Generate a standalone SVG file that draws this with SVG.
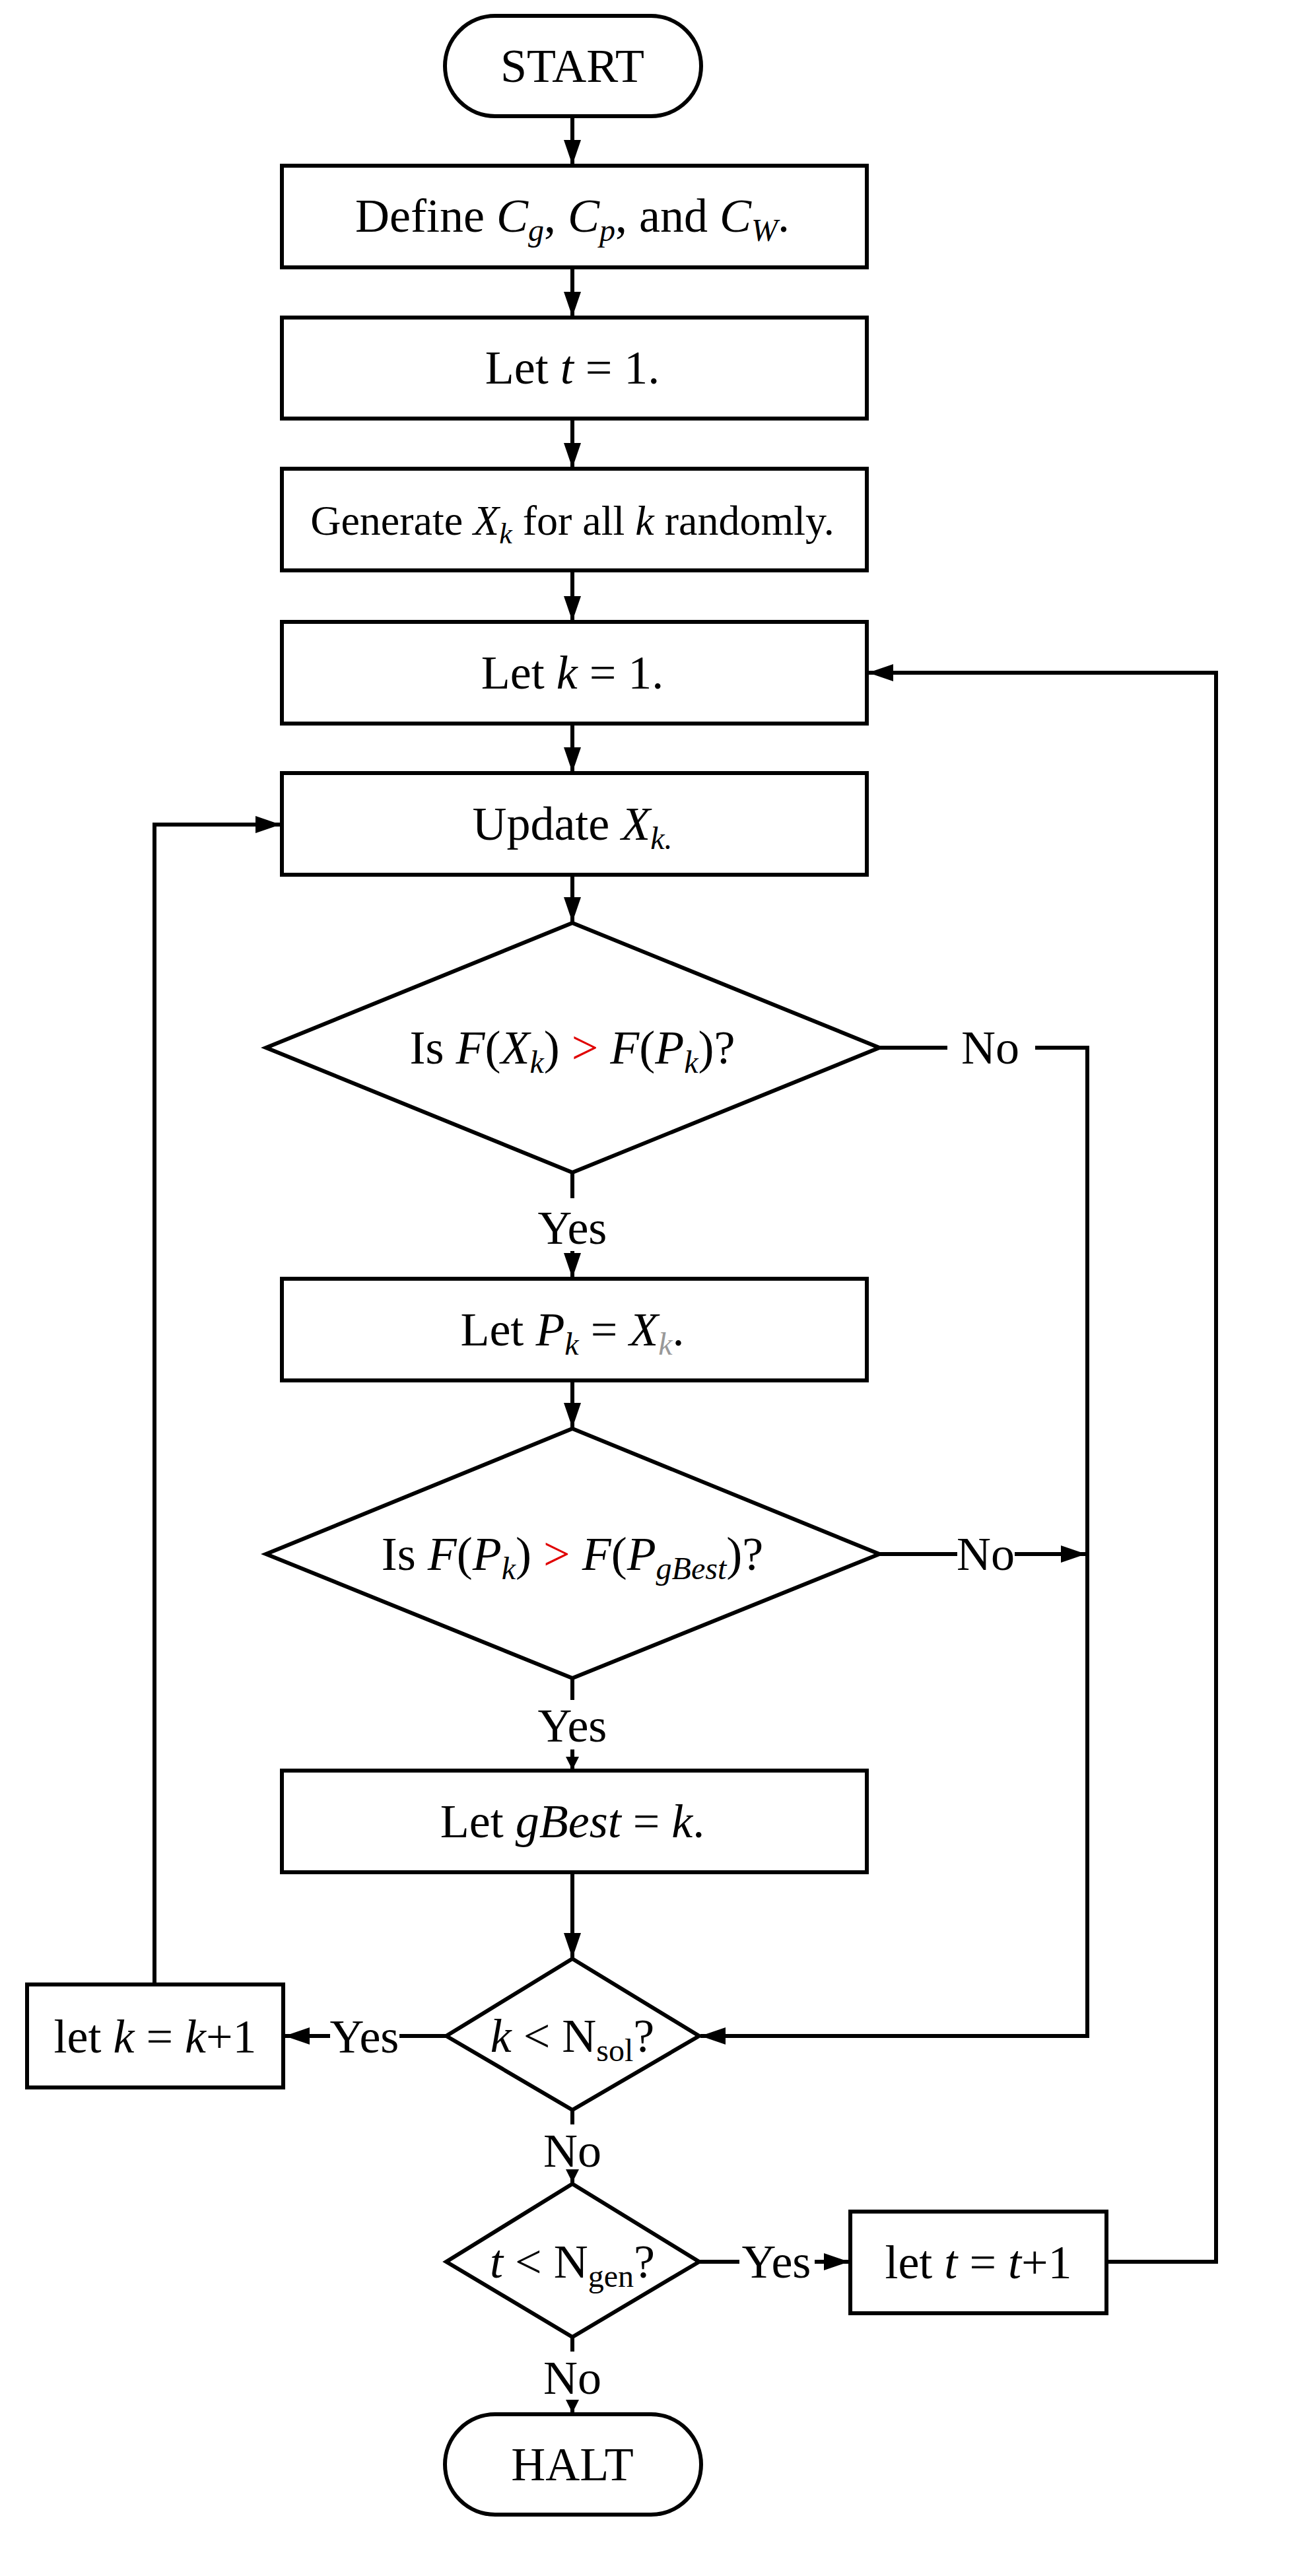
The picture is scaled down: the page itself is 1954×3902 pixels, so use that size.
<svg xmlns="http://www.w3.org/2000/svg" width="1954" height="3902" viewBox="0 0 1954 3902">
<style>
.s{fill:#fff;stroke:#000;stroke-width:6}
.c{fill:none;stroke:#000;stroke-width:6}
text{font-family:"Liberation Serif","Times New Roman",serif;font-size:72px;fill:#000;text-anchor:middle}
.i{font-style:italic}
.sub{font-size:48px}
.r{fill:#e00000}
</style>
<defs>
<marker id="a" markerWidth="40" markerHeight="30" refX="38" refY="15" orient="auto" markerUnits="userSpaceOnUse">
<path d="M0,2 L38,15 L0,28 Z" fill="#000"/>
</marker>
<marker id="b" markerWidth="22" markerHeight="24" refX="20" refY="12" orient="auto" markerUnits="userSpaceOnUse">
<path d="M0,2 L20,12 L0,22 Z" fill="#000"/>
</marker>
</defs>
<rect width="1954" height="3902" fill="#fff"/>
<g id="connectors">
<path class="c" d="M867,176 V250" marker-end="url(#a)"/>
<path class="c" d="M867,405 V480" marker-end="url(#a)"/>
<path class="c" d="M867,634 V709" marker-end="url(#a)"/>
<path class="c" d="M867,864 V941" marker-end="url(#a)"/>
<path class="c" d="M867,1096 V1170" marker-end="url(#a)"/>
<path class="c" d="M867,1325 V1397" marker-end="url(#a)"/>
<path class="c" d="M867,1776 V1815"/>
<path class="c" d="M867,1895 V1936" marker-end="url(#a)"/>
<path class="c" d="M867,2091 V2163" marker-end="url(#a)"/>
<path class="c" d="M867,2542 V2575"/>
<path class="c" d="M867,2650 V2681" marker-end="url(#b)"/>
<path class="c" d="M867,2836 V2966" marker-end="url(#a)"/>
<path class="c" d="M1332,1587 H1435"/>
<path class="c" d="M1568,1587 H1647 V3084 H1061" marker-end="url(#a)"/>
<path class="c" d="M1332,2354 H1450"/>
<path class="c" d="M1537,2354 H1645" marker-end="url(#a)"/>
<path class="c" d="M676,3084 H605"/>
<path class="c" d="M500,3084 H431" marker-end="url(#a)"/>
<path class="c" d="M234,3006 V1249 H425" marker-end="url(#a)"/>
<path class="c" d="M867,3196 V3218"/>
<path class="c" d="M867,3292 V3306" marker-end="url(#b)"/>
<path class="c" d="M1059,3426 H1120"/>
<path class="c" d="M1234,3426 H1286" marker-end="url(#a)"/>
<path class="c" d="M1676,3426 H1842 V1019 H1315" marker-end="url(#a)"/>
<path class="c" d="M867,3540 V3562"/>
<path class="c" d="M867,3636 V3655" marker-end="url(#b)"/>
</g>
<g id="labels">
<text x="867" y="1884">Yes</text>
<text x="867" y="2638">Yes</text>
<text x="1500" y="1611">No</text>
<text x="1493" y="2378">No</text>
<text x="552" y="3109">Yes</text>
<text x="867" y="3282">No</text>
<text x="1176" y="3450">Yes</text>
<text x="867" y="3626">No</text>
</g>
<g id="start"><rect class="s" x="674" y="24" width="388" height="152" rx="76"/><text x="867" y="124">START</text></g>
<g id="define"><rect class="s" x="427" y="251" width="886" height="154"/><text x="867" y="351">Define <tspan class="i">C</tspan><tspan class="i sub" dy="14">g</tspan><tspan dy="-14">, </tspan><tspan class="i">C</tspan><tspan class="i sub" dy="14">p</tspan><tspan dy="-14">, and </tspan><tspan class="i">C</tspan><tspan class="i sub" dy="14">W</tspan><tspan dy="-14">.</tspan></text></g>
<g id="lett"><rect class="s" x="427" y="481" width="886" height="153"/><text x="867" y="581">Let <tspan class="i">t</tspan> = 1.</text></g>
<g id="gen"><rect class="s" x="427" y="710" width="886" height="154"/><text x="867" y="810" style="font-size:64px">Generate <tspan class="i">X</tspan><tspan class="i" style="font-size:44px" dy="13">k</tspan><tspan dy="-13"> for all </tspan><tspan class="i">k</tspan> randomly.</text></g>
<g id="letk"><rect class="s" x="427" y="942" width="886" height="154"/><text x="867" y="1043">Let <tspan class="i">k</tspan> = 1.</text></g>
<g id="update"><rect class="s" x="427" y="1171" width="886" height="154"/><text x="867" y="1272">Update <tspan class="i">X</tspan><tspan class="i sub" dy="14">k.</tspan></text></g>
<g id="d1"><polygon class="s" points="867,1398 1332,1587 867,1776 403,1587"/><text x="867" y="1611">Is <tspan class="i">F</tspan>(<tspan class="i">X</tspan><tspan class="i sub" dy="14">k</tspan><tspan dy="-14">) </tspan><tspan class="r">&gt;</tspan> <tspan class="i">F</tspan>(<tspan class="i">P</tspan><tspan class="i sub" dy="14">k</tspan><tspan dy="-14">)?</tspan></text></g>
<g id="letp"><rect class="s" x="427" y="1937" width="886" height="154"/><text x="867" y="2038">Let <tspan class="i">P</tspan><tspan class="i sub" dy="14">k</tspan><tspan dy="-14"> = </tspan><tspan class="i">X</tspan><tspan class="i sub" dy="14" fill="#999">k</tspan><tspan dy="-14">.</tspan></text></g>
<g id="d2"><polygon class="s" points="867,2164 1332,2354 867,2542 403,2354"/><text x="867" y="2378">Is <tspan class="i">F</tspan>(<tspan class="i">P</tspan><tspan class="i sub" dy="14">k</tspan><tspan dy="-14">) </tspan><tspan class="r">&gt;</tspan> <tspan class="i">F</tspan>(<tspan class="i">P</tspan><tspan class="i sub" dy="14">gBest</tspan><tspan dy="-14">)?</tspan></text></g>
<g id="gbest"><rect class="s" x="427" y="2682" width="886" height="154"/><text x="867" y="2783">Let <tspan class="i">gBest</tspan> = <tspan class="i">k</tspan>.</text></g>
<g id="d3"><polygon class="s" points="867,2967 1059,3084 867,3196 676,3084"/><text x="867" y="3108"><tspan class="i">k</tspan> &lt; N<tspan class="sub" dy="14">sol</tspan><tspan dy="-14">?</tspan></text></g>
<g id="kinc"><rect class="s" x="41" y="3006" width="388" height="156"/><text x="235" y="3109">let <tspan class="i">k</tspan> = <tspan class="i">k</tspan>+1</text></g>
<g id="d4"><polygon class="s" points="867,3308 1059,3426 867,3540 676,3426"/><text x="867" y="3450"><tspan class="i">t</tspan> &lt; N<tspan class="sub" dy="14">gen</tspan><tspan dy="-14">?</tspan></text></g>
<g id="tinc"><rect class="s" x="1288" y="3350" width="388" height="154"/><text x="1482" y="3451">let <tspan class="i">t</tspan> = <tspan class="i">t</tspan>+1</text></g>
<g id="halt"><rect class="s" x="674" y="3657" width="388" height="152" rx="76"/><text x="867" y="3757">HALT</text></g>
</svg>
